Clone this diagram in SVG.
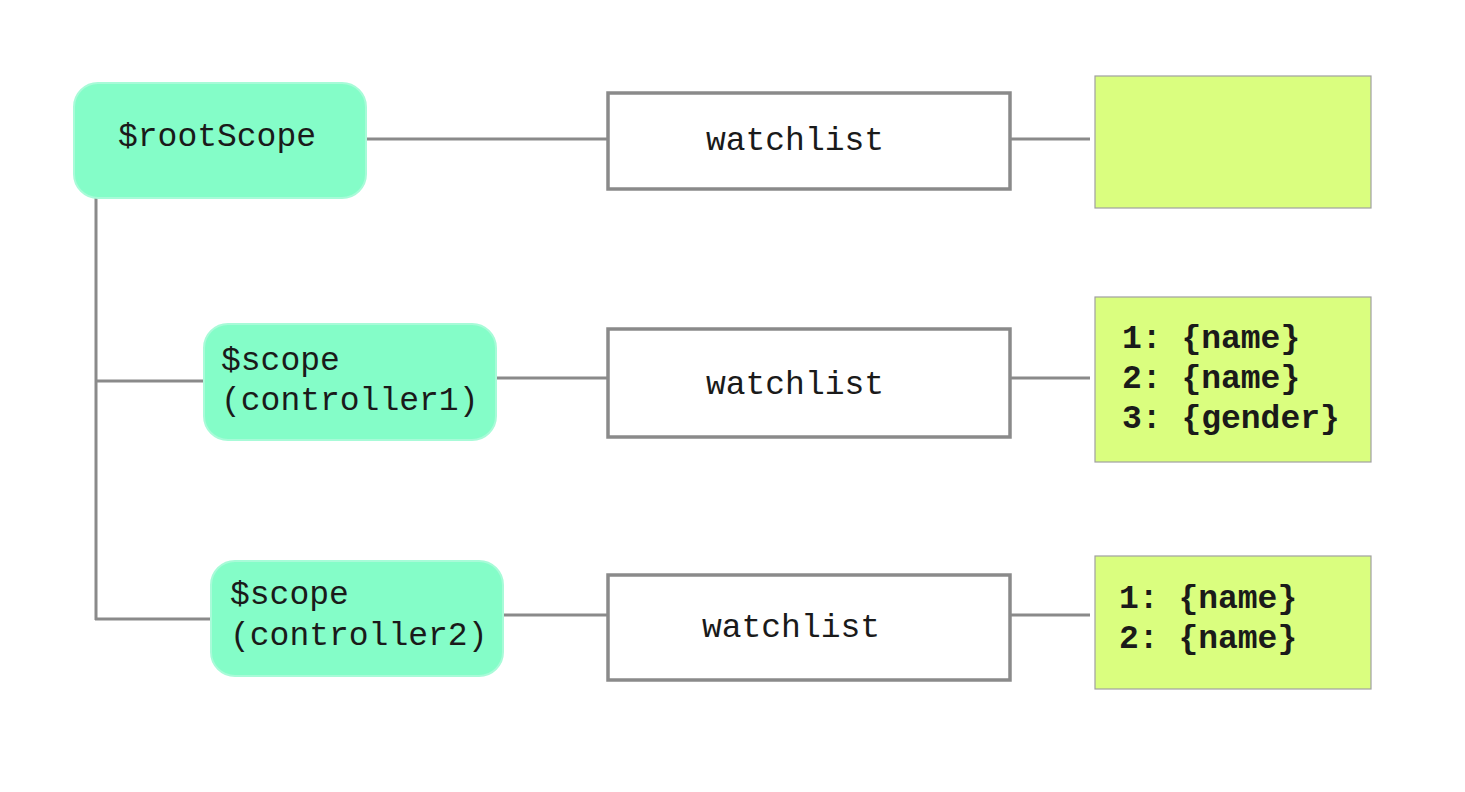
<svg xmlns="http://www.w3.org/2000/svg" width="1465" height="792" viewBox="0 0 1465 792">
<style>
.scope{fill:#84fdc8;stroke:#a8fbd8;stroke-width:2}
.wl{fill:#ffffff;stroke:#8a8a8a;stroke-width:3.5}
.list{fill:#dafe7f;stroke:#a0a0a0;stroke-width:1.2}
.t{font-family:"Liberation Mono","Courier New",monospace;font-size:33px;fill:#1a1a1a}
.b{font-family:"Liberation Mono","Courier New",monospace;font-size:33px;font-weight:bold;fill:#1a1a1a}
.c{fill:none;stroke:#8a8a8a;stroke-width:3}
</style>
<rect width="1465" height="792" fill="#ffffff"/>
<g id="connectors">
<line class="c" x1="366" y1="139" x2="608" y2="139"/>
<line class="c" x1="1010" y1="139" x2="1090" y2="139"/>
<line class="c" x1="96" y1="198" x2="96" y2="620"/>
<line class="c" x1="95" y1="381" x2="204" y2="381"/>
<line class="c" x1="95" y1="619" x2="211" y2="619"/>
<line class="c" x1="496" y1="378" x2="608" y2="378"/>
<line class="c" x1="1010" y1="378" x2="1090" y2="378"/>
<line class="c" x1="503" y1="615" x2="608" y2="615"/>
<line class="c" x1="1010" y1="615" x2="1090" y2="615"/>
</g>
<g id="rootScope">
<rect class="scope" x="74" y="83" width="292" height="115" rx="24"/>
<text class="t" x="217" y="146" text-anchor="middle">$rootScope</text>
</g>
<g id="scope1">
<rect class="scope" x="204" y="324" width="292" height="116" rx="24"/>
<text class="t" x="221" y="370">$scope</text>
<text class="t" x="221" y="410">(controller1)</text>
</g>
<g id="scope2">
<rect class="scope" x="211" y="561" width="292" height="115" rx="24"/>
<text class="t" x="230" y="604">$scope</text>
<text class="t" x="230" y="645">(controller2)</text>
</g>
<g id="watchlist1">
<rect class="wl" x="608" y="93" width="402" height="96"/>
<text class="t" x="795" y="150" text-anchor="middle">watchlist</text>
</g>
<g id="watchlist2">
<rect class="wl" x="608" y="329" width="402" height="108"/>
<text class="t" x="795" y="394" text-anchor="middle">watchlist</text>
</g>
<g id="watchlist3">
<rect class="wl" x="608" y="575" width="402" height="105"/>
<text class="t" x="791" y="637" text-anchor="middle">watchlist</text>
</g>
<g id="list1">
<rect class="list" x="1095" y="76" width="276" height="132"/>
</g>
<g id="list2">
<rect class="list" x="1095" y="297" width="276" height="165"/>
<text class="b" x="1122" y="348">1: {name}</text>
<text class="b" x="1122" y="388">2: {name}</text>
<text class="b" x="1122" y="428">3: {gender}</text>
</g>
<g id="list3">
<rect class="list" x="1095" y="556" width="276" height="133"/>
<text class="b" x="1119" y="608">1: {name}</text>
<text class="b" x="1119" y="648">2: {name}</text>
</g>
</svg>
